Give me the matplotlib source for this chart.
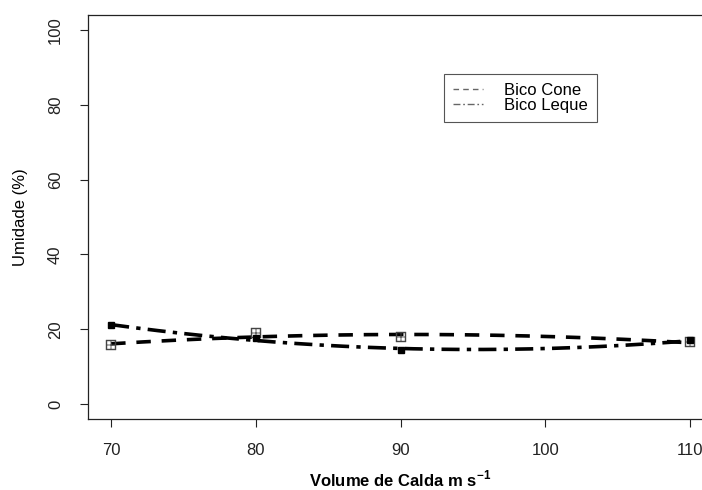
import numpy as np
import matplotlib.pyplot as plt
from matplotlib.lines import Line2D

plt.rcParams['font.family'] = ['Liberation Sans', 'DejaVu Sans']
plt.rcParams['mathtext.fontset'] = 'custom'
plt.rcParams['mathtext.rm'] = 'Liberation Sans'
plt.rcParams['mathtext.bf'] = 'Liberation Sans:bold'

# data
volume = [70, 80, 90, 110]
cone = [15.7, 19.0, 17.8, 16.5]
leque = [21.0, 17.6, 14.4, 17.0]
labels = ["Bico Cone", "Bico Leque"]

fig = plt.figure(figsize=(7.02, 4.90), dpi=100)
ax = fig.add_axes([88/702, 71/490, 625/702, 404/490])

# quadratic fit curves
xs = np.linspace(70, 110, 200)
pc = np.polyfit(volume, cone, 2)
pl = np.polyfit(volume, leque, 2)

ax.plot(xs, np.polyval(pc, xs), color="black", lw=2.6, dashes=(4, 3))
ax.plot(xs, np.polyval(pl, xs), color="black", lw=2.6, dashes=(5, 2, 1.2, 2))

# points
ax.plot(volume, cone, linestyle="none", marker="$\\boxplus$", ms=6.5,
        color="#444444", markeredgewidth=0.3)
ax.plot(volume, leque, linestyle="none", marker="s", ms=4.5, color="black")

ax.set_xlim(68.4, 111.6)
ax.set_ylim(-4, 104)
ax.set_xticks([70, 80, 90, 100, 110])
ax.set_yticks([0, 20, 40, 60, 80, 100])
ax.tick_params(length=6, width=0.8, labelsize=12, colors="#222222")
ax.tick_params(axis="x", pad=11)
ax.tick_params(axis="y", pad=12)
for lab in ax.get_yticklabels():
    lab.set_rotation(90)
    lab.set_va("center")
for sp in ax.spines.values():
    sp.set_linewidth(0.9)
    sp.set_color("#222222")

ax.set_ylabel("Umidade (%)", fontsize=12)
ax.set_xlabel("Volume de Calda m s$^{\\mathbf{-1}}$", fontsize=12, fontweight="bold")
ax.yaxis.set_label_coords(-0.096, 0.5)
ax.xaxis.set_label_coords(0.5, -0.124)

handles = [Line2D([], [], color="#666666", lw=1, dashes=(4, 3)),
           Line2D([], [], color="#666666", lw=1, dashes=(5, 2, 1.2, 2))]
leg = ax.legend(handles, labels, loc="upper left", bbox_to_anchor=(0.5696, 0.854),
                fontsize=12, fancybox=False, edgecolor="#555555", framealpha=1,
                borderaxespad=0, handlelength=1.8, labelspacing=0.0,
                borderpad=0.55, handletextpad=1.25)
leg.get_frame().set_linewidth(0.8)

fig.savefig("out.png", dpi=100)
